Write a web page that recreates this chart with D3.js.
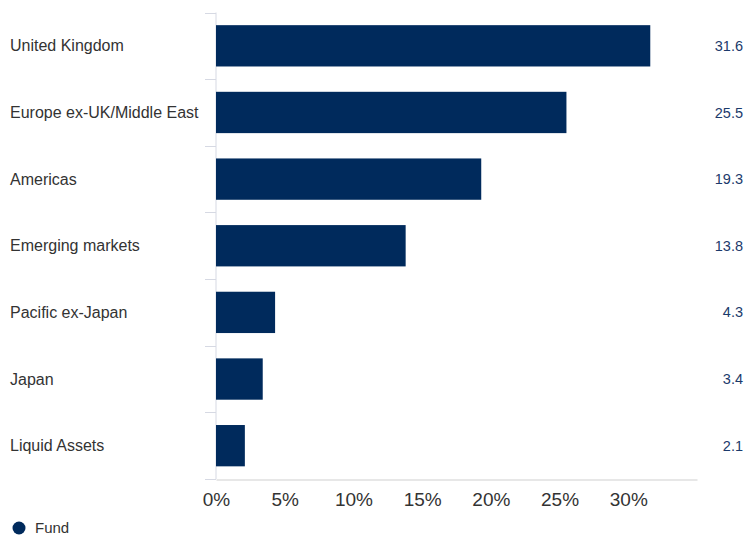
<!DOCTYPE html>
<html>
<head>
<meta charset="utf-8">
<script src="https://cdn.jsdelivr.net/npm/d3@7"></script>
<style>
  body { margin: 0; background: #fff; }
  svg { display: block; font-family: Arial, "Liberation Sans", sans-serif; }
</style>
</head>
<body>
<svg width="746" height="535"></svg>
<script>
var categories = ['United Kingdom', 'Europe ex-UK/Middle East', 'Americas', 'Emerging markets',
                  'Pacific ex-Japan', 'Japan', 'Liquid Assets'];
var fundValues = [31.6, 25.5, 19.3, 13.8, 4.3, 3.4, 2.1];
var xTicks = [0, 5, 10, 15, 20, 25, 30];
var seriesName = 'Fund';

var svg = d3.select('svg');

var x = d3.scaleLinear().domain([0, 35]).range([216, 697]);
var y = d3.scaleBand().domain(categories).range([12.5, 479]).paddingInner(0.38).paddingOuter(0.19);

var data = categories.map((c, i) => ({ name: c, value: fundValues[i] }));

// left axis line + category separators
svg.append('line')
    .attr('x1', 216).attr('x2', 216)
    .attr('y1', 12.5).attr('y2', 479)
    .attr('stroke', '#d6d9e3').attr('stroke-width', 1);

var bounds = d3.range(categories.length + 1).map(i => 12.5 + i * (466.5 / categories.length));
svg.append('g').selectAll('line')
    .data(bounds)
    .enter().append('line')
        .attr('x1', 205).attr('x2', 216)
        .attr('y1', d => Math.round(d) + 0.5).attr('y2', d => Math.round(d) + 0.5)
        .attr('stroke', '#d6d9e3');

// bottom axis
var xAxis = d3.axisBottom(x).tickValues(xTicks).tickFormat(d => d + '%').tickSize(0).tickPadding(13);
var gx = svg.append('g')
    .attr('transform', 'translate(0,479.5)')
    .call(xAxis);
gx.select('.domain').attr('stroke', '#cfcfcf');
gx.selectAll('text')
    .attr('fill', '#333')
    .style('font-size', '19px');

// bars
svg.append('g').selectAll('rect')
    .data(data)
    .enter().append('rect')
        .attr('x', x(0))
        .attr('y', d => y(d.name))
        .attr('width', d => x(d.value) - x(0))
        .attr('height', y.bandwidth())
        .attr('fill', '#002a5c');

// category labels
svg.append('g').selectAll('text')
    .data(data)
    .enter().append('text')
        .attr('x', 10)
        .attr('y', d => y(d.name) + y.bandwidth() / 2)
        .attr('dy', '0.35em')
        .attr('fill', '#333')
        .style('font-size', '16px')
        .text(d => d.name);

// value labels
svg.append('g').selectAll('text')
    .data(data)
    .enter().append('text')
        .attr('x', 743)
        .attr('y', d => y(d.name) + y.bandwidth() / 2)
        .attr('dy', '0.35em')
        .attr('text-anchor', 'end')
        .attr('fill', '#1b3a6b')
        .style('font-size', '14.5px')
        .text(d => d.value.toFixed(1));

// legend
var legend = svg.append('g').attr('transform', 'translate(19,528)');
legend.append('circle').attr('r', 6.5).attr('fill', '#002a5c');
legend.append('text')
    .attr('x', 16).attr('dy', '0.35em')
    .attr('fill', '#333')
    .style('font-size', '15px')
    .text(seriesName);
</script>
</body>
</html>
